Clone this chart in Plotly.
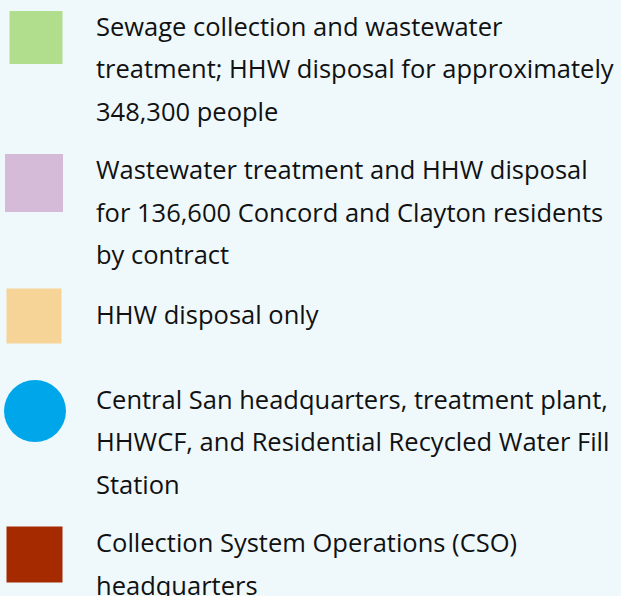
import plotly.graph_objects as go

# ---- data ----
categories = [
    "Sewage collection and wastewater treatment; HHW disposal for approximately 348,300 people",
    "Wastewater treatment and HHW disposal for 136,600 Concord and Clayton residents by contract",
    "HHW disposal only",
    "Central San headquarters, treatment plant, HHWCF, and Residential Recycled Water Fill Station",
    "Collection System Operations (CSO) headquarters",
]
label_lines = [
    ["Sewage collection and wastewater",
     "treatment; HHW disposal for approximately",
     "348,300 people"],
    ["Wastewater treatment and HHW disposal",
     "for 136,600 Concord and Clayton residents",
     "by contract"],
    ["HHW disposal only"],
    ["Central San headquarters, treatment plant,",
     "HHWCF, and Residential Recycled Water Fill",
     "Station"],
    ["Collection System Operations (CSO)",
     "headquarters"],
]
colors = ["#B1DE8D", "#D6BBD9", "#F6D498", "#00A6EA", "#A62A00"]
symbols = ["square", "square", "square", "circle", "square"]

# ---- layout constants (pixel space) ----
W, H = 621, 596
marker_x = [36, 34, 34, 35, 34.5]
marker_y = [37.5, 183, 316, 411, 554.5]
marker_size = [53, 58, 55, 62, 56]
first_baseline = [34, 177.5, 322, 407, 550.5]
line_gap = 42.5
text_x = 95
font_size = 25.5
FONT = "Open Sans"

fig = go.Figure()
for i, cat in enumerate(categories):
    fig.add_trace(go.Scatter(
        x=[marker_x[i]], y=[marker_y[i]], mode="markers", name=cat,
        marker=dict(symbol=symbols[i], size=marker_size[i], color=colors[i],
                    line=dict(width=0)),
        hoverinfo="name", showlegend=False,
    ))
    for j, line in enumerate(label_lines[i]):
        base = first_baseline[i] + j * line_gap
        fig.add_annotation(
            x=text_x, y=base - 0.33 * font_size, xref="x", yref="y",
            text=line, showarrow=False, xanchor="left", yanchor="middle",
            font=dict(family=FONT, size=font_size, color="#111111"),
            borderpad=0,
        )

fig.update_layout(
    width=W, height=H, margin=dict(l=0, r=0, t=0, b=0),
    paper_bgcolor="#EFF9FC", plot_bgcolor="#EFF9FC",
    xaxis=dict(range=[0, W], visible=False, fixedrange=True),
    yaxis=dict(range=[H, 0], visible=False, fixedrange=True),
    showlegend=False,
)
fig.write_html(
    "out.html",
    config={"displayModeBar": False},
    post_script="document.body.style.margin='0';document.body.style.background='#EFF9FC';",
)
